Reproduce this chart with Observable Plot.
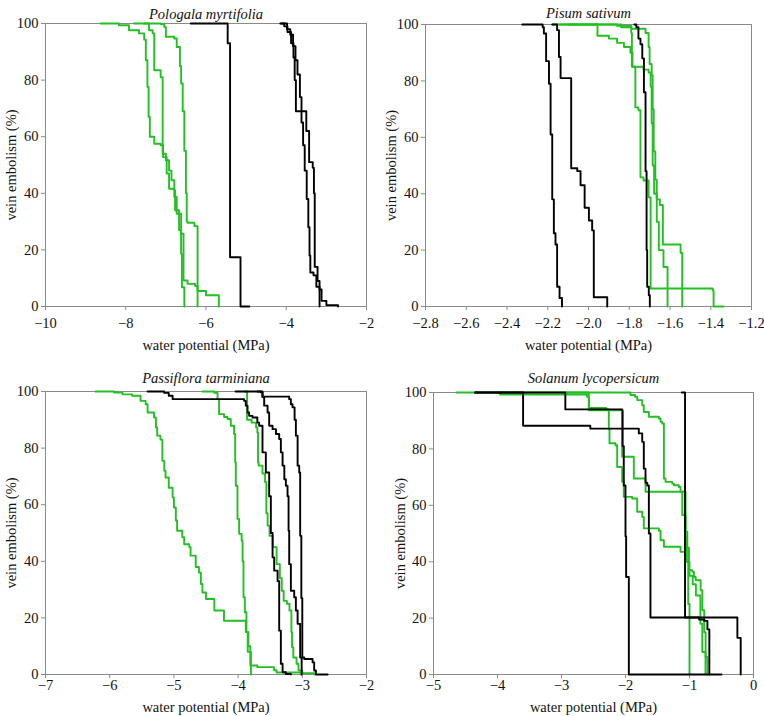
<!DOCTYPE html>
<html>
<head>
<meta charset="utf-8">
<script src="https://cdn.jsdelivr.net/npm/d3@7"></script>
<script src="https://cdn.jsdelivr.net/npm/@observablehq/plot@0.6"></script>
<style>
  html, body { margin: 0; padding: 0; background: #fff; }
  #wrap { position: relative; width: 764px; height: 716px; overflow: hidden; background: #fff; }
  .panel { position: absolute; }
</style>
</head>
<body>
<div id="wrap"></div>
<script>
// ---------- shared ----------
const yTicks = [0, 20, 40, 60, 80, 100];
const yLabel = "vein embolism (%)";
const xLabel = "water potential (MPa)";
const titles = ["Pologala myrtifolia", "Pisum sativum", "Passiflora tarminiana", "Solanum lycopersicum"];
const xTicks1 = [-10, -8, -6, -4, -2];
const xTicks2 = [-2.8, -2.6, -2.4, -2.2, -2.0, -1.8, -1.6, -1.4, -1.2];
const xTicks3 = [-7, -6, -5, -4, -3, -2];
const xTicks4 = [-5, -4, -3, -2, -1, 0];

// ---------- panel 1: Pologala myrtifolia  [water potential, % embolism] ----------
const poloGreenA = [[-8.63,100],[-8.17,99.4],[-7.92,97.6],[-7.67,96.5],[-7.54,94.3],[-7.50,87],[-7.46,77.6],[-7.43,67],[-7.40,60],[-7.29,57.5],[-7.13,57],[-7.07,52.8],[-6.98,47],[-6.92,41.6],[-6.79,41],[-6.77,34],[-6.67,27],[-6.62,18.6],[-6.60,6.8],[-6.54,0]];
const poloGreenB = [[-7.54,100],[-7.42,97.6],[-7.33,96.5],[-7.29,83.5],[-7.13,81],[-7.08,54],[-7.0,51.7],[-6.92,48],[-6.86,44.6],[-6.79,38.7],[-6.73,32.8],[-6.62,25.7],[-6.56,9.2],[-6.46,8],[-6.27,7.2],[-6.21,5.5],[-6.0,4],[-5.68,0]];
const poloGreenC = [[-7.80,100],[-7.13,99.8],[-7.04,98.8],[-7.0,95.3],[-6.79,94.7],[-6.73,91.7],[-6.65,85],[-6.62,78.8],[-6.58,69],[-6.54,55],[-6.50,40],[-6.48,30],[-6.46,29.6],[-6.29,28.4],[-6.21,0]];
const poloBlackD = [[-6.38,100],[-5.46,93],[-5.40,17.4],[-5.14,0],[-4.92,0]];
const poloBlackE = [[-4.15,100],[-4.05,99],[-3.97,97],[-3.88,93],[-3.82,88],[-3.79,80],[-3.76,69],[-3.50,62],[-3.43,51],[-3.34,49],[-3.31,40],[-3.29,14],[-3.22,9],[-3.17,6],[-3.12,2],[-3.0,0.5],[-2.71,0]];
const poloBlackF = [[-4.12,100],[-3.98,98],[-3.90,96],[-3.83,92],[-3.77,87],[-3.72,82],[-3.66,74],[-3.62,65],[-3.58,57],[-3.54,48],[-3.49,38],[-3.45,28],[-3.42,18],[-3.40,12],[-3.32,11],[-3.25,7],[-3.17,0]];

// ---------- panel 2: Pisum sativum ----------
const pisumBlack1 = [[-2.325,100],[-2.225,99],[-2.219,96.8],[-2.208,87],[-2.194,79],[-2.186,61],[-2.178,38],[-2.17,26],[-2.162,22],[-2.154,7],[-2.142,3],[-2.13,0]];
const pisumBlack2 = [[-2.178,100],[-2.154,98],[-2.145,88.5],[-2.137,81],[-2.085,49],[-2.055,48],[-2.039,43],[-2.019,35],[-1.998,30.5],[-1.982,27],[-1.974,3.3],[-1.908,0]];
const pisumBlack3 = [[-1.775,100],[-1.765,99],[-1.755,95],[-1.745,93],[-1.736,88],[-1.728,76],[-1.72,48],[-1.715,20],[-1.712,7],[-1.704,4],[-1.699,0]];
const pisumGreenA = [[-2.177,100],[-1.956,96],[-1.90,95],[-1.86,93.5],[-1.826,92],[-1.794,90],[-1.784,85],[-1.77,70.6],[-1.755,69.6],[-1.745,45.8],[-1.73,44.7],[-1.705,38.7],[-1.695,6.4],[-1.39,5.7],[-1.386,0],[-1.337,0]];
const pisumGreenB = [[-2.14,100],[-1.86,99.5],[-1.79,98.5],[-1.72,97],[-1.705,92],[-1.70,86],[-1.69,82],[-1.685,70],[-1.68,55],[-1.672,45],[-1.665,38],[-1.65,36],[-1.635,22],[-1.548,19],[-1.54,0]];
const pisumGreenC = [[-2.10,100],[-1.84,99],[-1.79,97],[-1.787,85],[-1.73,84],[-1.705,83],[-1.695,78],[-1.69,65],[-1.685,50],[-1.678,40],[-1.665,30],[-1.655,20],[-1.632,14],[-1.612,0]];

// ---------- panel 3: Passiflora tarminiana ----------
const passiGreen1 = [[-6.22,100],[-5.93,99.6],[-5.80,99],[-5.65,98.5],[-5.52,96.7],[-5.44,95.5],[-5.41,92.6],[-5.31,90.8],[-5.28,87.3],[-5.26,84.4],[-5.21,83],[-5.18,75.5],[-5.15,72],[-5.13,69.6],[-5.08,66],[-5.02,62.6],[-5.0,59],[-4.97,54.4],[-4.95,50.8],[-4.87,48.5],[-4.84,46],[-4.76,45],[-4.74,42],[-4.66,38],[-4.61,36],[-4.58,32],[-4.556,29],[-4.50,26.7],[-4.37,22.6],[-4.22,19],[-3.88,15],[-3.85,8],[-3.80,0]];
const passiGreen2 = [[-4.556,100],[-4.37,99.5],[-4.32,97.3],[-4.296,92],[-4.218,91],[-4.165,90.3],[-4.114,87.9],[-4.062,85],[-4.045,75],[-4.036,66.7],[-4.01,55],[-3.984,49.7],[-3.945,47.3],[-3.93,40],[-3.916,27.3],[-3.895,22],[-3.87,15],[-3.84,10],[-3.81,3.2],[-3.70,2.6],[-3.44,1.5],[-3.40,0.7],[-3.02,0]];
const passiGreen3 = [[-3.90,100],[-3.86,90],[-3.79,89],[-3.72,87.3],[-3.70,85.5],[-3.69,75],[-3.68,73.8],[-3.62,71],[-3.58,68],[-3.56,57],[-3.54,52.6],[-3.51,49],[-3.46,45],[-3.40,39],[-3.35,34],[-3.32,29.6],[-3.29,26],[-3.24,25],[-3.20,22.6],[-3.17,15],[-3.16,9.6],[-3.14,6],[-3.09,3.8],[-3.06,1.4],[-3.0,0.5],[-2.81,0]];
const passiBlack1 = [[-5.41,100],[-5.15,99.5],[-5.08,98.5],[-5.02,97.3],[-3.906,96.7],[-3.88,95],[-3.853,92.6],[-3.828,91.4],[-3.775,90.8],[-3.70,89],[-3.672,87.9],[-3.62,78.5],[-3.568,71.4],[-3.516,63],[-3.49,50],[-3.463,41.4],[-3.438,36.7],[-3.385,33],[-3.36,15.5],[-3.334,3.8],[-3.307,0.8],[-3.256,0.2],[-3.178,0]];
const passiBlack2 = [[-4.04,100],[-3.646,99.7],[-3.62,98],[-3.594,95],[-3.541,92.6],[-3.516,87.9],[-3.463,86.7],[-3.41,85],[-3.36,83.2],[-3.334,78.5],[-3.307,73.8],[-3.28,69],[-3.256,66.7],[-3.23,63],[-3.214,50.8],[-3.204,39],[-3.178,29.6],[-3.126,27.3],[-3.10,22.6],[-3.073,17.9],[-3.033,6],[-3.01,0]];
const passiBlack3 = [[-3.70,100],[-3.62,98.2],[-3.204,97.3],[-3.178,95.5],[-3.152,94.4],[-3.12,90],[-3.10,84.4],[-3.073,73.8],[-3.048,71.4],[-3.033,49],[-3.015,27],[-3.0,6],[-2.97,5.5],[-2.84,4.3],[-2.815,1.4],[-2.788,0],[-2.605,0]];

// ---------- panel 4: Solanum lycopersicum ----------
const solaBlackA = [[-1.12,100],[-1.07,20.2],[-0.252,13],[-0.20,0]];
const solaBlackB = [[-4.35,100],[-3.60,88.2],[-2.55,87.2],[-1.792,85.5],[-1.739,82.5],[-1.714,73],[-1.687,68],[-1.66,67],[-1.635,50],[-1.61,20.2],[-0.85,19.5],[-0.77,19],[-0.72,16],[-0.69,0]];
const solaBlackC = [[-4.35,100],[-2.94,94],[-2.052,93.7],[-2.045,81],[-2.027,67],[-2.0,49],[-1.99,34.6],[-1.948,0],[-0.50,0]];
const solaGreen1 = [[-2.95,100],[-1.922,99.1],[-1.85,98.5],[-1.817,97.3],[-1.739,95.5],[-1.714,93.1],[-1.635,91.4],[-1.479,90.8],[-1.452,89.6],[-1.426,89],[-1.40,69.5],[-1.374,68.3],[-1.27,67.7],[-1.244,67.1],[-1.166,66.5],[-1.14,64.8],[-1.113,56.5],[-1.061,50.6],[-1.034,45],[-1.009,37],[-0.956,36.4],[-0.931,34.6],[-0.904,33.4],[-0.826,29.9],[-0.80,22.8],[-0.77,15],[-0.748,6.2],[-0.721,0]];
const solaGreen2 = [[-4.0,100],[-2.574,93.7],[-2.052,77.2],[-1.87,69.5],[-1.687,64.8],[-1.061,49.4],[-1.04,40],[-1.02,25],[-1.0,0]];
const solaGreen3 = [[-4.64,100],[-3.96,99.3],[-2.60,98.5],[-2.57,94.5],[-2.30,94],[-2.261,87],[-2.25,82],[-2.157,81.3],[-2.13,73.6],[-2.052,68.3],[-2.027,63],[-1.895,62.4],[-1.817,57.7],[-1.739,55.9],[-1.714,51.8],[-1.479,51],[-1.452,47.6],[-1.40,45.3],[-1.14,43.5],[-1.05,40],[-1.0,35],[-0.95,32],[-0.90,28],[-0.83,18],[-0.80,8],[-0.75,0]];

// ---------- build ----------
const GREEN = "#22c022";
const BLACK = "#000000";
function rows(series) {
  const out = [];
  for (const [name, color, pts] of series) for (const [x, y] of pts) out.push({x, y, name, color});
  return out;
}
const panelDefs = [
  {left: 0, top: 0, width: 380, height: 350, mt: 23, mb: 44, ml: 45, mr: 14, dom: [-10, -2], ticks: xTicks1, fmt: d3.format("d"), title: titles[0], tdy: -15,
   tpad: 7, xlo: 43, ylo: 40,
   greens: [["A", GREEN, poloGreenA], ["B", GREEN, poloGreenB], ["C", GREEN, poloGreenC]],
   blacks: [["D", BLACK, poloBlackD], ["E", BLACK, poloBlackE], ["F", BLACK, poloBlackF]]},
  {left: 380, top: 0, width: 384, height: 350, mt: 24, mb: 44, ml: 45, mr: 13, dom: [-2.8, -1.2], ticks: xTicks2, fmt: d3.format(".1f"), title: titles[1], tdy: -17,
   tpad: 7, xlo: 43, ylo: 40,
   greens: [["A", GREEN, pisumGreenA], ["B", GREEN, pisumGreenB], ["C", GREEN, pisumGreenC]],
   blacks: [["1", BLACK, pisumBlack1], ["2", BLACK, pisumBlack2], ["3", BLACK, pisumBlack3]]},
  {left: 0, top: 350, width: 380, height: 366, mt: 41, mb: 42, ml: 45, mr: 14, dom: [-7, -2], ticks: xTicks3, fmt: d3.format("d"), title: titles[2], tdy: -19,
   tpad: 1, xlo: 37, ylo: 40,
   greens: [["1", GREEN, passiGreen1], ["2", GREEN, passiGreen2], ["3", GREEN, passiGreen3]],
   blacks: [["4", BLACK, passiBlack1], ["5", BLACK, passiBlack2], ["6", BLACK, passiBlack3]]},
  {left: 380, top: 350, width: 384, height: 366, mt: 42, mb: 42, ml: 53, mr: 11, dom: [-5, 0], ticks: xTicks4, fmt: d3.format("d"), title: titles[3], tdy: -20,
   tpad: 1, xlo: 37, ylo: 39,
   greens: [["1", GREEN, solaGreen1], ["2", GREEN, solaGreen2], ["3", GREEN, solaGreen3]],
   blacks: [["4", BLACK, solaBlackA], ["5", BLACK, solaBlackB], ["6", BLACK, solaBlackC]]}
];

const wrap = document.getElementById("wrap");
for (const p of panelDefs) {
  const g = rows(p.greens), b = rows(p.blacks);
  const chart = Plot.plot({
    width: p.width, height: p.height,
    marginTop: p.mt, marginBottom: p.mb, marginLeft: p.ml, marginRight: p.mr,
    style: {fontFamily: "Liberation Serif, Times New Roman, serif", fontSize: "14.5px", background: "transparent", color: "#111", overflow: "visible"},
    x: {domain: p.dom},
    y: {domain: [0, 100]},
    marks: [
      Plot.frame({stroke: "#8a8a8a", strokeWidth: 1}),
      Plot.axisY({ticks: yTicks, tickSize: 4, tickPadding: 3, stroke: "#8a8a8a", fill: "#111",
                  label: yLabel, labelAnchor: "center", labelOffset: p.ylo, labelArrow: "none"}),
      Plot.axisX({ticks: p.ticks, tickFormat: p.fmt, tickSize: 4, tickPadding: p.tpad, stroke: "#8a8a8a", fill: "#111",
                  label: xLabel, labelAnchor: "center", labelOffset: p.xlo, labelArrow: "none"}),
      Plot.line(g, {x: "x", y: "y", z: "name", stroke: "color", strokeWidth: 1.9, curve: "step-after"}),
      Plot.line(b, {x: "x", y: "y", z: "name", stroke: "color", strokeWidth: 1.9, curve: "step-after"}),
      Plot.text([p.title], {text: d => d, frameAnchor: "top", dy: p.tdy, fontStyle: "italic", fontSize: 14.5, fill: "#111"})
    ]
  });
  chart.classList.add("panel");
  chart.style.left = p.left + "px";
  chart.style.top = p.top + "px";
  wrap.appendChild(chart);
}
</script>
</body>
</html>
